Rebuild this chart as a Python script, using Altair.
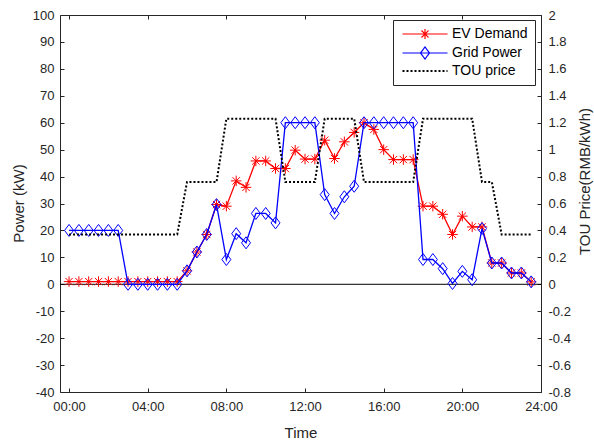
import altair as alt
import pandas as pd

# ---- data (half-hour steps) ----
hours = [0.0, 0.5, 1.0, 1.5, 2.0, 2.5, 3.0, 3.5, 4.0, 4.5, 5.0, 5.5,
         6.0, 6.5, 7.0, 7.5, 8.0, 8.5, 9.0, 9.5, 10.0, 10.5, 11.0, 11.5,
         12.0, 12.5, 13.0, 13.5, 14.0, 14.5, 15.0, 15.5, 16.0, 16.5, 17.0, 17.5,
         18.0, 18.5, 19.0, 19.5, 20.0, 20.5, 21.0, 21.5, 22.0, 22.5, 23.0, 23.5]

ev_demand = [1, 1, 1, 1, 1, 1, 1, 1, 1, 1, 1, 1,
             5, 12, 18.5, 29.6, 29, 38.4, 36, 45.8, 45.8, 43, 43, 49.8,
             46.5, 46.5, 53.5, 46.7, 52.9, 56.4, 60, 57.5, 50, 46.3, 46.3, 46.3,
             29, 29, 26, 18.5, 25.3, 21.3, 21.3, 7.9, 7.9, 4.2, 4.2, 0.9]

grid_power = [20, 20, 20, 20, 20, 20, 0, 0, 0, 0, 0, 0,
              5, 12, 18.5, 29.6, 9.2, 18.8, 15.4, 26.3, 26.3, 22.8, 60, 60,
              60, 60, 33.3, 26.3, 32.5, 36.4, 60, 60, 60, 60, 60, 60,
              9.2, 9.2, 5.8, 0.3, 4.8, 1.7, 20.7, 7.9, 7.9, 4.2, 4.2, 0.9]

tou_price = [0.37, 0.37, 0.37, 0.37, 0.37, 0.37, 0.37, 0.37, 0.37, 0.37, 0.37, 0.37,
             0.76, 0.76, 0.76, 0.76, 1.23, 1.23, 1.23, 1.23, 1.23, 1.23, 0.76, 0.76,
             0.76, 0.76, 1.23, 1.23, 1.23, 1.23, 0.76, 0.76, 0.76, 0.76, 0.76, 0.76,
             1.23, 1.23, 1.23, 1.23, 1.23, 1.23, 0.76, 0.76, 0.37, 0.37, 0.37, 0.37]

series_names = ["EV Demand", "Grid Power", "TOU price"]
series_colors = ["#FF0000", "#0000FF", "#000000"]

x_ticks = [0, 4, 8, 12, 16, 20, 24]
yl_ticks = [-40, -30, -20, -10, 0, 10, 20, 30, 40, 50, 60, 70, 80, 90, 100]
yr_ticks = [-0.8, -0.6, -0.4, -0.2, 0, 0.2, 0.4, 0.6, 0.8, 1, 1.2, 1.4, 1.6, 1.8, 2]

ev_df = pd.DataFrame({"h": hours, "v": ev_demand, "series": series_names[0]})
grid_df = pd.DataFrame({"h": hours, "v": grid_power, "series": series_names[1]})
tou_df = pd.DataFrame({"h": hours, "v": tou_price, "series": series_names[2]})
zero_df = pd.DataFrame({"z": [0]})

# ---- styling ----
W, H = 481, 377
AX = "#262626"
FONT = "Liberation Sans"

STAR = "M-1,0L1,0M0,-1L0,1M-0.7,-0.7L0.7,0.7M-0.7,0.7L0.7,-0.7"
DIAMOND = "M-0.9,0L0,-1.2L0.9,0L0,1.2Z"

LEG_EV = "M-4.5,0L4.5,0M-1,0L1,0M0,-1L0,1M-0.7,-0.7L0.7,0.7M-0.7,0.7L0.7,-0.7"
LEG_GRID = "M-4.5,0L4.5,0M-0.9,0L0,-1.2L0.9,0L0,1.2Z"
LEG_TOU = "M-4.5,0L4.5,0"

xs = alt.Scale(domain=[-0.46, 24], nice=False, zero=False)
ysl = alt.Scale(domain=[-40, 100], nice=False, zero=False)
ysr = alt.Scale(domain=[-0.8, 2], nice=False, zero=False)

x_axis = alt.Axis(orient="bottom", values=x_ticks, ticks=False, labelPadding=8,
                  labelExpr="(datum.value < 10 ? '0' : '') + datum.value + ':00'",
                  title="Time", titleX=240.5, titleY=40, titleAlign="center",
                  titleBaseline="middle")
yl_axis = alt.Axis(orient="left", values=yl_ticks, ticks=False, labelPadding=6,
                   labelExpr="'' + datum.value", title="Power (kW)",
                   titleX=-42, titleY=188, titleAngle=270, titleAlign="center",
                   titleBaseline="middle")
yr_axis = alt.Axis(orient="right", values=yr_ticks, ticks=False, labelPadding=7,
                   labelExpr="'' + datum.value", title="TOU Price(RMB/kWh)",
                   titleX=43, titleY=166, titleAngle=270, titleAlign="center",
                   titleBaseline="middle")

shape_expr = ("datum.value == 'EV Demand' ? '" + LEG_EV + "' : datum.value == 'Grid Power' ? '"
              + LEG_GRID + "' : '" + LEG_TOU + "'")

legend = alt.Legend(
    title=None, orient="none", legendX=333, legendY=5,
    fillColor="white", strokeColor=AX, padding=7,
    symbolSize=100, symbolOffset=18, labelOffset=20,
    labelFontSize=14, labelFont=FONT, labelColor="black", rowPadding=2,
    symbolType=alt.ExprRef(expr=shape_expr),
    symbolFillColor="transparent",
    symbolDash=alt.ExprRef(expr="datum.value == 'TOU price' ? [2, 2] : [1, 0]"),
    symbolStrokeWidth=alt.ExprRef(expr="datum.value == 'TOU price' ? 2 : 1.2"),
)
color_enc = alt.Color("series:N", scale=alt.Scale(domain=series_names, range=series_colors),
                      legend=legend)

x_main = alt.X("h:Q", scale=xs, axis=x_axis)
y_left = alt.Y("v:Q", scale=ysl, axis=yl_axis)

zero_rule = alt.Chart(zero_df).mark_rule(color="black", strokeWidth=1).encode(
    y=alt.Y("z:Q", scale=ysl, axis=yl_axis))

ev_line = alt.Chart(ev_df).mark_line(strokeWidth=1.3).encode(x=x_main, y=y_left, color=color_enc)
ev_pts = alt.Chart(ev_df).mark_point(shape=STAR, filled=False, size=110, strokeWidth=1,
                                     color="#FF0000", opacity=1).encode(x=x_main, y=y_left)
grid_line = alt.Chart(grid_df).mark_line(strokeWidth=1.3).encode(x=x_main, y=y_left, color=color_enc)
grid_pts = alt.Chart(grid_df).mark_point(shape=DIAMOND, filled=False, size=100, strokeWidth=1,
                                         color="#0000FF", opacity=1).encode(x=x_main, y=y_left)

left_layer = alt.layer(zero_rule, ev_line, ev_pts, grid_line, grid_pts)

tou_line = alt.Chart(tou_df).mark_line(strokeWidth=2, strokeDash=[2, 2]).encode(
    x=alt.X("h:Q", scale=xs, axis=None),
    y=alt.Y("v:Q", scale=ysr, axis=yr_axis),
    color=color_enc)

# inward ticks: bottom + left
ticks_a = alt.Chart(ev_df).mark_point(opacity=0).encode(
    x=alt.X("h:Q", scale=xs, axis=alt.Axis(orient="top", offset=-H, values=x_ticks, labels=False,
                                            domain=False, tickSize=4, title=None)),
    y=alt.Y("v:Q", scale=ysl, axis=alt.Axis(orient="right", offset=-W, values=yl_ticks, labels=False,
                                             domain=False, tickSize=4, title=None)))
# inward ticks: top (+ top border) + right
ticks_b = alt.Chart(tou_df).mark_point(opacity=0).encode(
    x=alt.X("h:Q", scale=xs, axis=alt.Axis(orient="bottom", offset=-H, values=x_ticks, labels=False,
                                            domain=True, tickSize=4, title=None)),
    y=alt.Y("v:Q", scale=ysr, axis=alt.Axis(orient="left", offset=-W, values=yr_ticks, labels=False,
                                             domain=False, tickSize=4, title=None)))

chart = alt.layer(left_layer, tou_line, ticks_a, ticks_b).resolve_scale(
    y="independent"
).resolve_axis(
    x="independent", y="independent"
).properties(
    width=W, height=H,
    autosize=alt.AutoSizeParams(type="none"),
    padding={"left": 60, "top": 15, "right": 53, "bottom": 49},
    background="white",
).configure_view(
    stroke=None
).configure_axis(
    labelFont=FONT, titleFont=FONT, labelFontSize=13, titleFontSize=15,
    titleFontWeight="normal", labelColor=AX, titleColor=AX, domainColor=AX,
    tickColor=AX, domainWidth=1, tickWidth=1, grid=False, labelFlush=False,
    labelOverlap=False, labelBound=False,
)

chart.save("out.html", embed_options={"renderer": "svg", "actions": False})
